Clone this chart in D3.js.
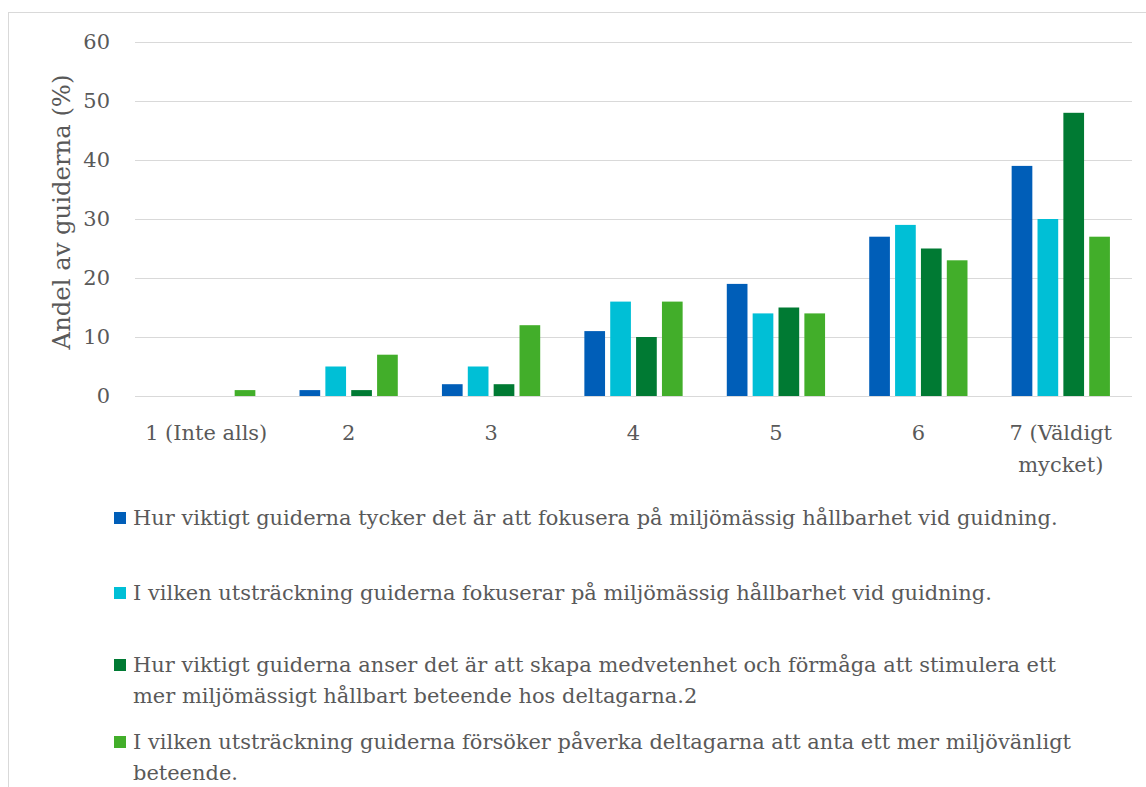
<!DOCTYPE html>
<meta charset="utf-8">
<style>
    body { margin: 0; background: #fff; }
    svg { font-family: "DejaVu Serif", serif; }
    .grid line { stroke: #d9d9d9; stroke-width: 1.3; shape-rendering: crispEdges; }
    .axis text, .legend text, .ytitle { fill: #595959; }
</style>
<body>
<script src="https://cdn.jsdelivr.net/npm/d3@7"></script>
<script>
    // data
    const categories = ["1 (Inte alls)", "2", "3", "4", "5", "6", "7 (Väldigt mycket)"];
    const seriesNames = [
        "Hur viktigt guiderna tycker det är att fokusera på miljömässig hållbarhet vid guidning.",
        "I vilken utsträckning guiderna fokuserar på miljömässig hållbarhet vid guidning.",
        "Hur viktigt guiderna anser det är att skapa medvetenhet och förmåga att stimulera ett mer miljömässigt hållbart beteende hos deltagarna.2",
        "I vilken utsträckning guiderna försöker påverka deltagarna att anta ett mer miljövänligt beteende."
    ];
    const viktigtFokus   = [0, 1, 2, 11, 19, 27, 39];
    const fokuserar      = [0, 5, 5, 16, 14, 29, 30];
    const viktigtSkapa   = [0, 1, 2, 10, 15, 25, 48];
    const paverka        = [1, 7, 12, 16, 14, 23, 27];
    const seriesValues = [viktigtFokus, fokuserar, viktigtSkapa, paverka];
    const colors = ["#005eb8", "#00bfd6", "#007a33", "#42ae2a"];
    const yTicks = [0, 10, 20, 30, 40, 50, 60];
    // legend lines as wrapped in the picture
    const legendLines = [
        ["Hur viktigt guiderna tycker det är att fokusera på miljömässig hållbarhet vid guidning."],
        ["I vilken utsträckning guiderna fokuserar på miljömässig hållbarhet vid guidning."],
        ["Hur viktigt guiderna anser det är att skapa medvetenhet och förmåga att stimulera ett",
         "mer miljömässigt hållbart beteende hos deltagarna.2"],
        ["I vilken utsträckning guiderna försöker påverka deltagarna att anta ett mer miljövänligt",
         "beteende."]
    ];
    const legendY = [518, 593, 665, 742];

    const width = 1146, height = 787;
    const plot = {left: 135, right: 1132, top: 42, bottom: 396};

    const svg = d3.select("body").append("svg")
        .attr("width", width)
        .attr("height", height);

    // work out a font size so the first legend line is as wide as in the picture
    const probe = svg.append("text").attr("font-size", 20).text(legendLines[0][0]);
    const fs = 20 * 925 / probe.node().getComputedTextLength();
    probe.remove();

    // chart frame
    svg.append("rect")
        .attr("x", 8.5).attr("y", 12.5)
        .attr("width", 1200).attr("height", 900)
        .attr("fill", "none")
        .attr("stroke", "#d9d9d9");

    const x0 = d3.scaleBand()
        .domain(categories)
        .range([plot.left, plot.right])
        .paddingInner(0.31)
        .paddingOuter(0.155);

    const x1 = d3.scaleBand()
        .domain(d3.range(seriesValues.length))
        .range([0, x0.bandwidth()])
        .paddingInner(0.2);

    const y = d3.scaleLinear()
        .domain([0, 60])
        .range([plot.bottom, plot.top]);

    // gridlines
    svg.append("g")
        .attr("class", "grid")
        .selectAll("line")
        .data(yTicks)
        .enter().append("line")
        .attr("x1", plot.left).attr("x2", plot.right)
        .attr("y1", d => Math.round(y(d)) + 0.5)
        .attr("y2", d => Math.round(y(d)) + 0.5);

    // bars
    const groups = svg.append("g")
        .selectAll("g")
        .data(categories)
        .enter().append("g")
        .attr("transform", d => "translate(" + x0(d) + ",0)");

    groups.selectAll("rect")
        .data((d, i) => seriesValues.map((s, j) => ({series: j, value: s[i]})))
        .enter().append("rect")
        .filter(d => d.value > 0)
        .attr("x", d => x1(d.series))
        .attr("width", x1.bandwidth())
        .attr("y", d => y(d.value))
        .attr("height", d => y(0) - y(d.value))
        .attr("fill", d => colors[d.series]);

    // y axis labels
    const yAxis = d3.axisLeft(y).tickValues(yTicks).tickSize(0).tickPadding(0);
    svg.append("g")
        .attr("class", "axis")
        .attr("transform", "translate(110,0)")
        .call(yAxis)
        .call(g => g.select(".domain").remove())
        .selectAll("text")
        .attr("font-size", fs)
        .attr("font-family", "DejaVu Serif, serif")
        .attr("fill", "#595959");

    // x axis labels (wrapped)
    const xLabels = svg.append("g").attr("class", "axis");
    categories.forEach(c => {
        const lines = c === "7 (Väldigt mycket)" ? ["7 (Väldigt", "mycket)"] : [c];
        const t = xLabels.append("text")
            .attr("text-anchor", "middle")
            .attr("font-size", fs)
            .attr("x", x0(c) + x0.bandwidth() / 2)
            .attr("y", 440);
        lines.forEach((l, k) => {
            t.append("tspan")
                .attr("x", x0(c) + x0.bandwidth() / 2)
                .attr("dy", k === 0 ? 0 : 32)
                .text(l);
        });
    });

    // y title
    svg.append("text")
        .attr("class", "ytitle")
        .attr("transform", "translate(70,212) rotate(-90)")
        .attr("text-anchor", "middle")
        .attr("font-size", fs * 1.16)
        .text("Andel av guiderna (%)");

    // legend
    const legend = svg.append("g").attr("class", "legend")
        .selectAll("g")
        .data(seriesNames)
        .enter().append("g")
        .attr("transform", (d, i) => "translate(114," + legendY[i] + ")");

    legend.append("rect")
        .attr("x", 0).attr("y", -6)
        .attr("width", 12).attr("height", 12)
        .attr("fill", (d, i) => colors[i]);

    legend.append("text")
        .attr("x", 19)
        .attr("y", 7)
        .attr("font-size", fs)
        .each(function(d, i) {
            const t = d3.select(this);
            legendLines[i].forEach((l, k) => {
                t.append("tspan").attr("x", 19).attr("dy", k === 0 ? 0 : 31).text(l);
            });
        });
</script>
</body>
</html>
